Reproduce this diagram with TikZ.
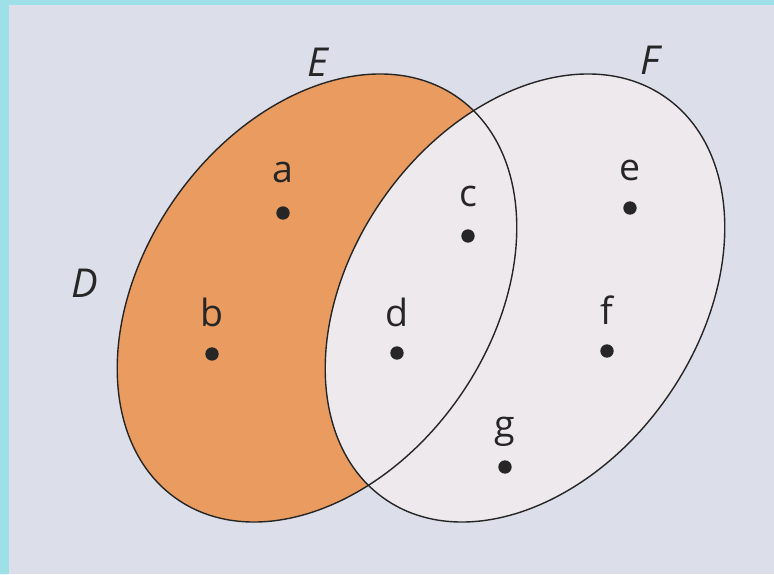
\documentclass[tikz,border=0pt]{standalone}
\usepackage{fontspec}
\setmainfont{Open Sans}
\definecolor{bgc}{HTML}{DCDEEA}
\definecolor{framec}{HTML}{9EE0E8}
\definecolor{orangec}{HTML}{EA9C60}
\definecolor{fc}{HTML}{EDE9EC}
\begin{document}
\begin{tikzpicture}[x=0.03cm,y=0.03cm,
  setline/.style={line width=1.2pt,draw=black!85},
  lbl/.style={font=\fontsize{32}{32}\selectfont,inner sep=0pt,text=black!85},
  setname/.style={font=\fontsize{34}{34}\selectfont\itshape,inner sep=0pt,text=black!85},
  pt/.style={circle,fill=black!85,inner sep=0pt,minimum size=0.4cm}]
\useasboundingbox (0,0) rectangle (774,574);
\fill[bgc] (0,0) rectangle (774,574);
\fill[framec] (0,0) rectangle (9,574);
\fill[framec] (0,569) rectangle (774,574);
% sets
\fill[orangec] (317,276) ellipse [x radius=7.35cm, y radius=5.2cm, rotate=55];
\fill[fc] (525,276) ellipse [x radius=7.35cm, y radius=5.2cm, rotate=55];
\draw[setline] (317,276) ellipse [x radius=7.35cm, y radius=5.2cm, rotate=55];
\draw[setline] (525,276) ellipse [x radius=7.35cm, y radius=5.2cm, rotate=55];
% set names
\node[setname] (nD) at (85,291) {D};
\node[setname] (nE) at (318,512) {E};
\node[setname] (nF) at (650,514) {F};
% elements
\node[pt] (pa) at (283,361) {};
\node[pt] (pb) at (212,220) {};
\node[pt] (pc) at (468,338) {};
\node[pt] (pd) at (397,221) {};
\node[pt] (pe) at (630,366) {};
\node[pt] (pf) at (607,223) {};
\node[pt] (pg) at (505,107) {};
\node[lbl] (la) at (283,402) {a};
\node[lbl] (lb) at (212,262) {b};
\node[lbl] (lc) at (468,378) {c};
\node[lbl] (ld) at (397,262) {d};
\node[lbl] (le) at (630,404) {e};
\node[lbl] (lf) at (607,264) {f};
\node[lbl] (lg) at (505,142) {g};
\end{tikzpicture}
\end{document}
